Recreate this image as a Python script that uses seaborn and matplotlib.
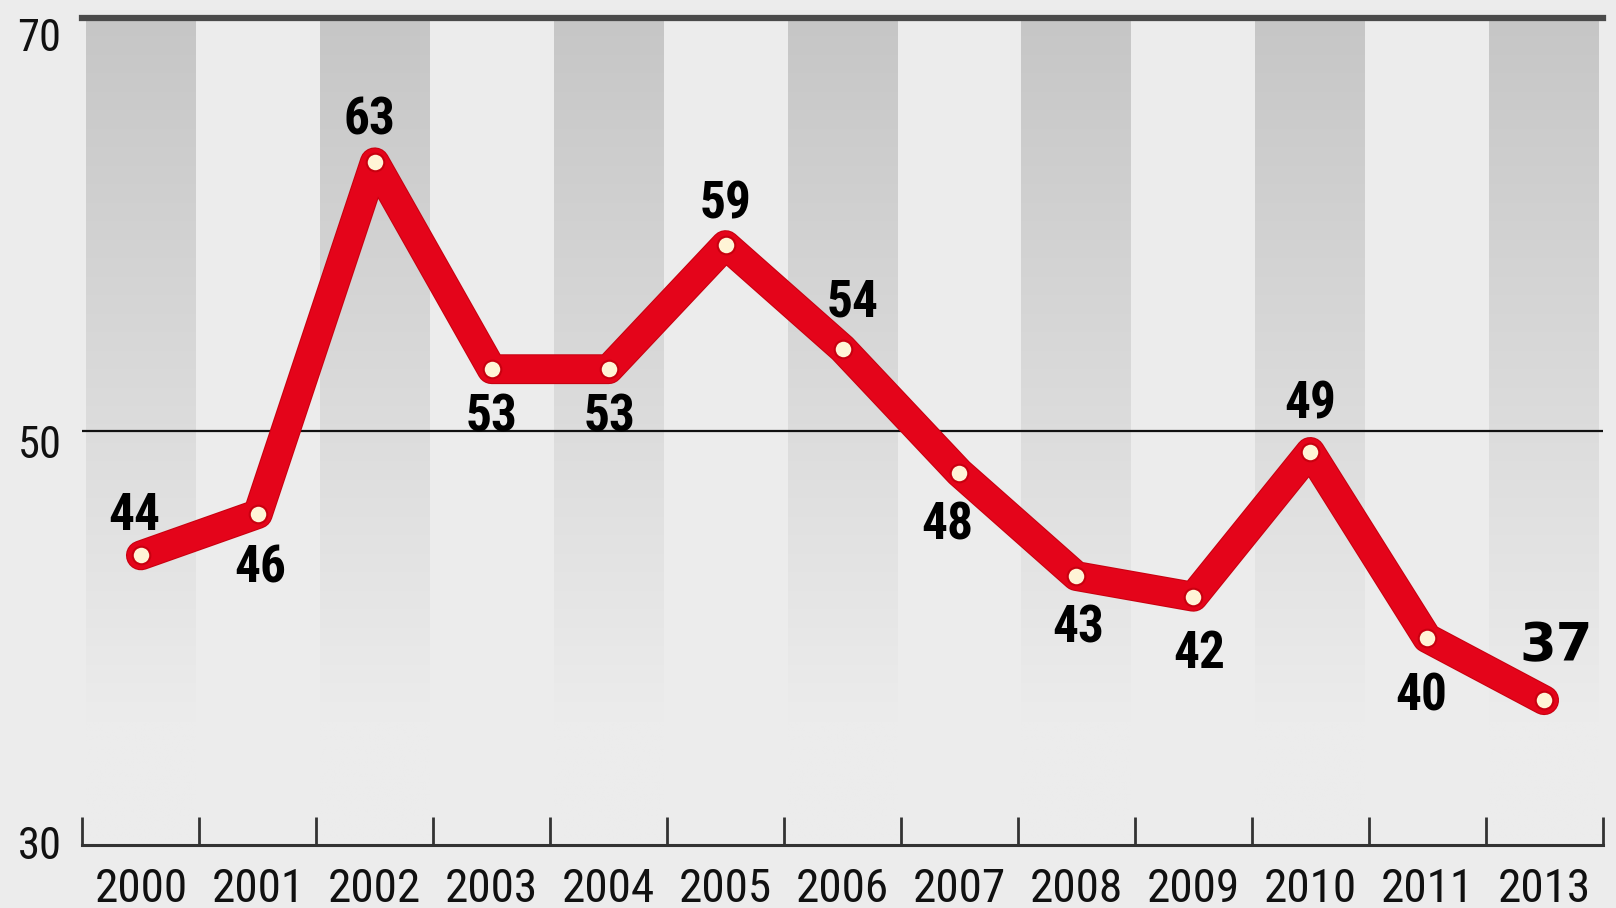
import numpy as np
import pandas as pd
import matplotlib
matplotlib.use("Agg")
import matplotlib.pyplot as plt
import matplotlib.patheffects as pe
from matplotlib import font_manager as fm
from matplotlib.transforms import ScaledTranslation
import seaborn as sns

# ---- data -------------------------------------------------------------
years = ["2000", "2001", "2002", "2003", "2004", "2005", "2006",
         "2007", "2008", "2009", "2010", "2011", "2013"]
values = [44, 46, 63, 53, 53, 59, 54, 48, 43, 42, 49, 40, 37]
y_ticks = [30, 50, 70]

# label placement around each point (points: dx, dy)
label_offsets = [(-5, 32), (2, -35), (-4, 34), (0, -31), (1, -31), (0, 33),
                 (7, 37), (-9, -34), (1, -34), (4, -37), (0, 38), (-4, -38),
                 (9, 43)]

# ---- fonts: prefer a narrow sans, fall back to Liberation Sans ----------
names = {f.name for f in fm.fontManager.ttflist}
narrow_name = next((n for n in ["Liberation Sans Narrow", "Roboto Condensed",
                                "Open Sans Condensed", "DejaVu Sans Condensed"]
                    if n in names), None)
dejavu_cond = any(f.name == "DejaVu Sans" and "condensed" in str(f.stretch)
                  for f in fm.fontManager.ttflist)
if narrow_name:
    FONT = dict(family=[narrow_name, "DejaVu Sans"], stretch="normal")
    scale = 1.0
elif dejavu_cond:
    FONT = dict(family=["DejaVu Sans"], stretch="condensed")
    scale = 0.86
else:
    FONT = dict(family=["Liberation Sans", "DejaVu Sans"], stretch="normal")
    scale = 0.84

# ---- style ------------------------------------------------------------
BG = "#ececec"
BAND_TOP = np.array([0xc6, 0xc6, 0xc6]) / 255
BG_RGB = np.array([0xec, 0xec, 0xec]) / 255
RED = "#e4041a"

sns.set_theme(style="white")
plt.rcParams["font.family"] = FONT["family"]
plt.rcParams["font.stretch"] = FONT["stretch"]

fig = plt.figure(figsize=(16.16, 9.08), dpi=100, facecolor=BG)
ax = fig.add_axes([0.051, 0.0694, 0.9407, 0.9113])
ax.set_facecolor(BG)

n = len(years)
x = np.arange(n)
df = pd.DataFrame({"pos": x, "value": values, "year": years})

# alternating gradient columns behind the plot
ys = np.linspace(70, 30, 400)
t = np.clip((ys - 36) / (70 - 36), 0, 1)[:, None]
grad = (BG_RGB + (BAND_TOP - BG_RGB) * t)[:, None, :]
for i in range(0, n, 2):
    ax.imshow(grad, extent=(i - 0.47, i + 0.47, 30, 70), aspect="auto",
              zorder=0, interpolation="bilinear")

# reference line at 50
ax.axhline(50, color="#111111", lw=1.6, zorder=1)

# the series
sns.lineplot(data=df, x="pos", y="value", ax=ax, color=RED, lw=20,
             sort=False, zorder=3, legend=False,
             solid_joinstyle="round", solid_capstyle="round",
             path_effects=[pe.Stroke(linewidth=21.5, foreground="#c8000f"),
                           pe.Normal()])
sns.scatterplot(data=df, x="pos", y="value", ax=ax, s=160, color="#fff4d6",
                edgecolor="#c8000f", linewidth=1.5, zorder=4, legend=False)

# value labels
for i, (v, (dx, dy)) in enumerate(zip(values, label_offsets)):
    last = i == n - 1
    if last:
        kw = dict(fontsize=38, family=["DejaVu Sans"], stretch="normal")
    else:
        kw = dict(fontsize=37 * scale, family=FONT["family"],
                  stretch=FONT["stretch"])
    ax.annotate(str(v), (x[i], v), xytext=(dx, dy), textcoords="offset points",
                ha="center", va="center_baseline", fontweight="bold",
                color="black", zorder=5, **kw)

# axes
ax.set_xlim(-0.5, n - 0.5)
ax.set_ylim(30, 70)
ax.set_xlabel("")
ax.set_ylabel("")
ax.set_xticks(x)
ax.set_xticklabels(years)
ax.set_xticks(np.arange(-0.5, n, 1.0), minor=True)
ax.tick_params(axis="x", which="major", length=0, pad=16,
               labelsize=34 * scale, labelcolor="#111111")
ax.tick_params(axis="x", which="minor", direction="in", length=20, width=2,
               color="#333333", bottom=True)
ax.set_yticks(y_ticks)
ax.set_yticklabels([str(v) for v in y_ticks])
ax.tick_params(axis="y", length=0, pad=15, labelsize=32 * scale,
               labelcolor="#111111")

shifts = {30: 2, 50: -10, 70: -17}
for lab, v in zip(ax.get_yticklabels(), y_ticks):
    lab.set_transform(lab.get_transform() +
                      ScaledTranslation(0, shifts[v] / 100, fig.dpi_scale_trans))

for side in ["left", "right"]:
    ax.spines[side].set_visible(False)
ax.spines["bottom"].set_color("#333333")
ax.spines["bottom"].set_linewidth(2.2)
ax.spines["top"].set_color("#4a4a4a")
ax.spines["top"].set_linewidth(4.5)

fig.savefig("out.png", dpi=100, facecolor=BG)
